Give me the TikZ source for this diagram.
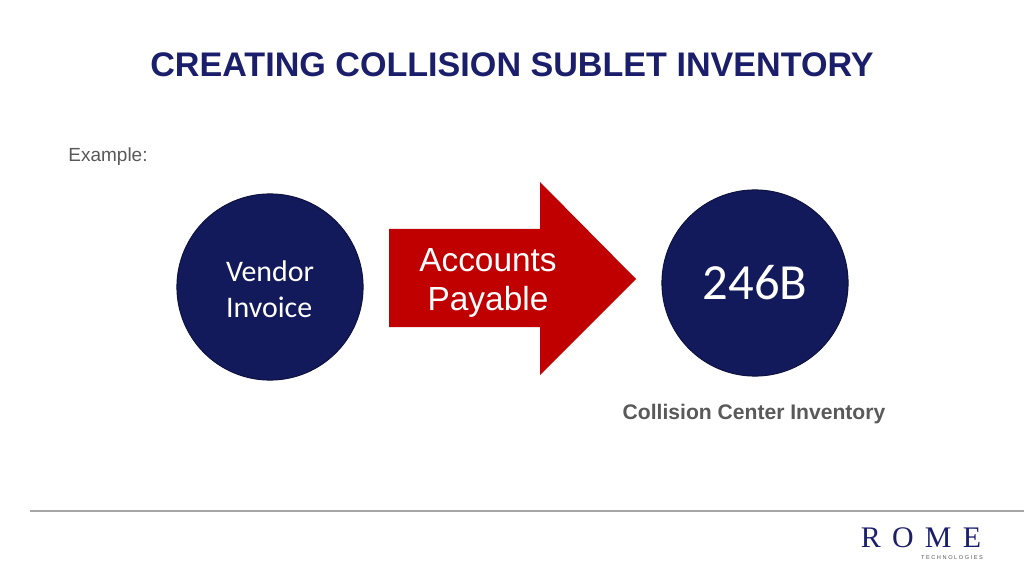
\documentclass[tikz,border=0pt]{standalone}
\usepackage{fontspec}
\setmainfont{Liberation Sans}
\newfontfamily\calfont{Carlito}
\newfontfamily\serifr{Liberation Serif}
\definecolor{navy}{HTML}{1B1F6B}
\definecolor{cnavy}{HTML}{131A5C}
\definecolor{ared}{HTML}{C00000}
\definecolor{gtxt}{HTML}{595959}
\begin{document}
\begin{tikzpicture}[x=0.01cm,y=-0.01cm,
  circ/.style={circle,fill=cnavy,draw=cnavy!70!black,line width=0.3pt,minimum size=1.86cm,inner sep=0pt,text=white,align=center}]
\useasboundingbox[fill=white] (0,0) rectangle (1024,576);
\node[font=\fontsize{9.7pt}{11pt}\selectfont\bfseries,text=navy] (title) at (512,65) {CREATING COLLISION SUBLET INVENTORY};
\node[anchor=west,font=\fontsize{5.4pt}{6pt}\selectfont,text=gtxt] (ex) at (56,157) {Example:};
\node[circ,font=\calfont\fontsize{8.5pt}{10.2pt}\selectfont] (c1) at (270,287) {};
\node[text=white,align=left,font=\calfont\fontsize{8.5pt}{10.2pt}\selectfont] (t1) at (270,289) {Vendor\\Invoice};
\fill[ared] (389,229) -- (540,229) -- (540,182) -- (636,279) -- (540,375) -- (540,327) -- (389,327) -- cycle;
\node[text=white,align=center,font=\fontsize{9.5pt}{11.3pt}\selectfont] (ap) at (488,283) {Accounts\\Payable};
\node[circ,font=\calfont\fontsize{14.4pt}{15pt}\selectfont] (c2) at (755,283) {246B};
\node[font=\fontsize{6pt}{7pt}\selectfont\bfseries,text=gtxt] (cci) at (754,414) {Collision Center Inventory};
\draw[gray!70,line width=0.4pt] (30,511) -- (1024,511);
\node[font=\serifr\fontsize{8.5pt}{9pt}\selectfont,text=navy] (rome) at (921,538) {R\hspace{3.2pt}O\hspace{3.2pt}M\hspace{3.2pt}E};
\node[font=\fontsize{1.6pt}{2pt}\selectfont,text=gtxt] (tech) at (952,558) {T E C H N O L O G I E S};
\end{tikzpicture}
\end{document}
